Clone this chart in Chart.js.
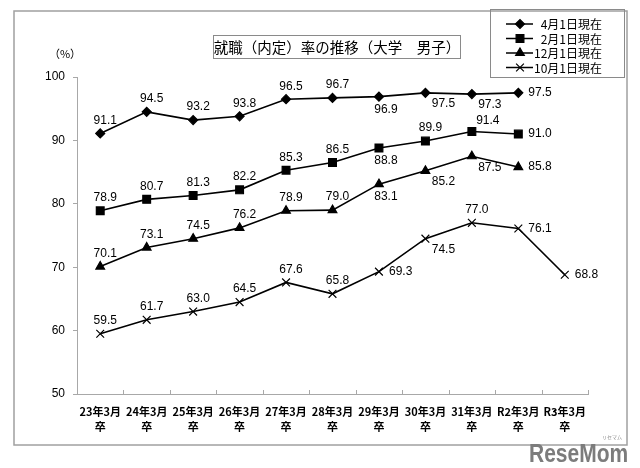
<!DOCTYPE html>
<html>
<head>
<meta charset="utf-8">
<script src="https://cdn.jsdelivr.net/npm/chart.js@4.4.1/dist/chart.umd.min.js"></script>
<style>
  html, body { margin: 0; padding: 0; background: #fff; }
  #wrap { width: 640px; height: 468px; position: relative; }
</style>
</head>
<body>
<div id="wrap"><canvas id="rateChart" width="640" height="468"></canvas></div>
<script>
// 就職(内定)率の推移(大学 男子)
const categories = [
    ['23年3月', '卒'], ['24年3月', '卒'], ['25年3月', '卒'], ['26年3月', '卒'],
    ['27年3月', '卒'], ['28年3月', '卒'], ['29年3月', '卒'], ['30年3月', '卒'],
    ['31年3月', '卒'], ['R2年3月', '卒'], ['R3年3月', '卒']
];
const seriesNames = ['4月1日現在', '2月1日現在', '12月1日現在', '10月1日現在'];
const apr1 = [91.1, 94.5, 93.2, 93.8, 96.5, 96.7, 96.9, 97.5, 97.3, 97.5, null];
const feb1 = [78.9, 80.7, 81.3, 82.2, 85.3, 86.5, 88.8, 89.9, 91.4, 91.0, null];
const dec1 = [70.1, 73.1, 74.5, 76.2, 78.9, 79.0, 83.1, 85.2, 87.5, 85.8, null];
const oct1 = [59.5, 61.7, 63.0, 64.5, 67.6, 65.8, 69.3, 74.5, 77.0, 76.1, 68.8];
const yTicks = [50, 60, 70, 80, 90, 100];

// where each value label sits relative to its point
const labelPos = [
    ['t', 't', 't', 't', 't', 't', 'b', 'br', 'br', 'r', null],
    ['t', 't', 't', 't', 't', 't', 'b', 't', 'tr', 'r', null],
    ['t', 't', 't', 't', 't', 't', 'b', 'br', 'br', 'r', null],
    ['t', 't', 't', 't', 't', 't', 'r', 'br', 't', 'r', 'r']
];
const posOffset = {
    t:  { dx: 5,  dy: -13, align: 'center' },
    tr: { dx: 16, dy: -11, align: 'center' },
    b:  { dx: 7,  dy: 13,  align: 'center' },
    br: { dx: 18, dy: 11,  align: 'center' },
    r:  { dx: 10, dy: 0,   align: 'left' }
};

const markers = [
    { style: 'rectRot', radius: 4.5 },
    { style: 'rect', radius: 5.5 },
    { style: 'triangle', radius: 5 },
    { style: 'crossRot', radius: 5.5 }
];

const jpFont = '"Noto Sans CJK JP", sans-serif';
const numFont = '"Liberation Sans", Arial, sans-serif';

function drawMarker(ctx, m, x, y) {
    if (Chart.helpers && Chart.helpers.drawPoint) {
        ctx.fillStyle = '#000';
        ctx.strokeStyle = '#000';
        ctx.lineWidth = 1.2;
        Chart.helpers.drawPoint(ctx, { pointStyle: m.style, radius: m.radius, rotation: 0, borderWidth: 1.2 }, x, y);
    }
}

const decorPlugin = {
    id: 'decor',
    beforeDraw(chart) {
        const ctx = chart.ctx;
        ctx.save();
        ctx.fillStyle = '#fff';
        ctx.fillRect(0, 0, chart.width, chart.height);
        ctx.restore();
    },
    afterDraw(chart) {
        const ctx = chart.ctx;
        const x = chart.scales.x;
        ctx.save();

        // outer frame
        ctx.strokeStyle = '#a0a0a0';
        ctx.lineWidth = 1.5;
        ctx.strokeRect(14, 11, 613, 434);

        // inside tick marks on the category axis
        ctx.strokeStyle = '#a8a8a8';
        ctx.lineWidth = 1;
        const step = (x.right - x.left) / categories.length;
        for (let i = 0; i <= categories.length; i++) {
            const px = Math.round(x.left + i * step) + 0.5;
            ctx.beginPath();
            ctx.moveTo(px, x.top);
            ctx.lineTo(px, x.top - 4);
            ctx.stroke();
        }

        // title box
        ctx.strokeStyle = '#8a8a8a';
        ctx.lineWidth = 1;
        ctx.strokeRect(213.5, 35.5, 247, 23);
        ctx.fillStyle = '#000';
        ctx.font = '14.5px ' + jpFont;
        ctx.textAlign = 'center';
        ctx.textBaseline = 'middle';
        ctx.fillText('就職（内定）率の推移（大学　男子）', 337, 47.5);

        // unit
        ctx.font = '11px ' + jpFont;
        ctx.fillText('（%）', 65, 54);

        // legend
        ctx.strokeRect(490.5, 9.5, 134, 68);
        const rows = [24, 38.5, 53, 67.5];
        seriesNames.forEach((name, i) => {
            ctx.strokeStyle = '#000';
            ctx.lineWidth = 1.5;
            ctx.beginPath();
            ctx.moveTo(506, rows[i]);
            ctx.lineTo(533, rows[i]);
            ctx.stroke();
            drawMarker(ctx, markers[i], 520, rows[i]);
            ctx.fillStyle = '#000';
            ctx.font = '12px ' + jpFont;
            ctx.textAlign = 'right';
            ctx.textBaseline = 'middle';
            ctx.fillText(name, 602, rows[i] + 0.5);
        });

        // value labels
        ctx.font = '12px ' + numFont;
        ctx.fillStyle = '#000';
        ctx.textBaseline = 'middle';
        chart.data.datasets.forEach((ds, di) => {
            const meta = chart.getDatasetMeta(di);
            meta.data.forEach((pt, i) => {
                const v = ds.data[i];
                if (v === null || v === undefined) return;
                const o = posOffset[labelPos[di][i]];
                ctx.textAlign = o.align;
                ctx.fillText(v.toFixed(1), pt.x + o.dx, pt.y + o.dy);
            });
        });

        // watermark
        ctx.save();
        ctx.fillStyle = '#7c7c7c';
        ctx.font = 'bold 25px ' + numFont;
        ctx.textAlign = 'left';
        ctx.textBaseline = 'alphabetic';
        ctx.translate(529, 462);
        ctx.scale(0.84, 1);
        ctx.fillText('ReseMom', 0, 0);
        ctx.restore();
        ctx.fillStyle = '#8a8a8a';
        ctx.font = '5px ' + jpFont;
        ctx.textAlign = 'center';
        ctx.fillText('リセマム', 612, 437);

        ctx.restore();
    }
};

const seriesData = [apr1, feb1, dec1, oct1];

new Chart(document.getElementById('rateChart'), {
    type: 'line',
    data: {
        labels: categories,
        datasets: seriesData.map((d, i) => ({
            label: seriesNames[i],
            data: d,
            borderColor: '#000',
            backgroundColor: '#000',
            borderWidth: 1.6,
            tension: 0,
            fill: false,
            pointStyle: markers[i].style,
            pointRadius: markers[i].radius,
            pointBorderWidth: 1.2,
            pointBackgroundColor: '#000',
            pointBorderColor: '#000'
        }))
    },
    options: {
        responsive: false,
        animation: false,
        layout: { padding: { top: 77, right: 52, left: 0, bottom: 0 } },
        plugins: {
            legend: { display: false },
            tooltip: { enabled: false },
            title: { display: false }
        },
        scales: {
            y: {
                min: 50,
                max: 100,
                afterFit(s) { s.width = 77; },
                afterBuildTicks(s) { s.ticks = yTicks.map(v => ({ value: v })); },
                grid: { drawOnChartArea: false, drawTicks: true, tickLength: 4, color: '#a8a8a8' },
                border: { display: true, color: '#a8a8a8', width: 1 },
                ticks: { color: '#000', padding: 8, font: { family: numFont, size: 12 } }
            },
            x: {
                offset: true,
                afterFit(s) { s.height = 74; },
                grid: { drawOnChartArea: false, drawTicks: false },
                border: { display: true, color: '#a8a8a8', width: 1 },
                ticks: {
                    color: '#000',
                    padding: 10,
                    maxRotation: 0,
                    autoSkip: false,
                    font: { family: jpFont, size: 11, weight: 'bold', lineHeight: 1.36 }
                }
            }
        }
    },
    plugins: [decorPlugin]
});
</script>
</body>
</html>
